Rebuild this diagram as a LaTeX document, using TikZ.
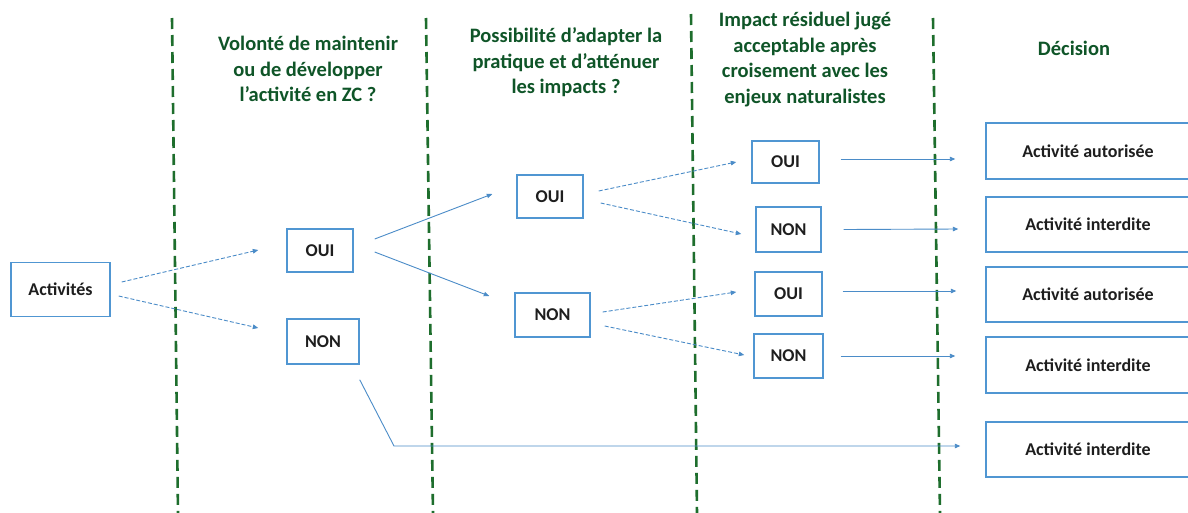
\documentclass[tikz,border=0pt]{standalone}
\usepackage{fontspec}
\setmainfont{Carlito}
\usetikzlibrary{arrows.meta}
\definecolor{boxblue}{RGB}{80,150,210}
\definecolor{linkblue}{RGB}{75,140,200}
\definecolor{sepgreen}{RGB}{30,110,45}
\definecolor{headgreen}{RGB}{15,85,40}
\definecolor{labelink}{RGB}{30,30,30}
\tikzset{
  bx/.style={draw=boxblue, line width=1.4pt, fill=white, inner sep=0pt,
    font=\fontsize{18}{20}\selectfont\bfseries, text=labelink},
  decbox/.style={bx, minimum width=204pt, minimum height=55pt},
  sep/.style={draw=sepgreen, line width=2.6pt, dash pattern=on 11pt off 6pt},
  head/.style={align=center, text=headgreen, inner sep=0pt,
    font=\fontsize{20.5}{25.5}\selectfont\bfseries},
  arr/.style={draw=linkblue, line width=0.9pt, -{Triangle[length=5.5pt,width=4.5pt]}},
  darr/.style={arr, dash pattern=on 4pt off 2pt},
}
\begin{document}
\begin{tikzpicture}[x=1pt,y=-1pt]
\useasboundingbox[fill=white] (0,0) rectangle (1188,512);
% separators
\draw[sep] (172,18) -- (178,514);
\draw[sep] (426,18) -- (433,514);
\draw[sep] (691,14) -- (697,514);
\draw[sep] (933,18) -- (940,514);
% headers
\node[head] (h1) at (308,69) {Volonté de maintenir\\ou de développer\\l’activité en ZC ?};
\node[head] (h2) at (566,62.5) {Possibilité d’adapter la\\pratique et d’atténuer\\les impacts ?};
\node[head] (h3) at (805,59.5) {Impact résiduel jugé\\acceptable après\\croisement avec les\\enjeux naturalistes};
\node[head] (h4) at (1074,48) {Décision};
% boxes
\node[bx, minimum width=99pt, minimum height=54pt] (act) at (60.5,289.5) {Activités};
\node[bx, minimum width=66pt, minimum height=43pt] (oui1) at (320,250.5) {OUI};
\node[bx, minimum width=72pt, minimum height=45pt] (non1) at (323,341.5) {NON};
\node[bx, minimum width=66pt, minimum height=43pt] (oui2) at (550,196.5) {OUI};
\node[bx, minimum width=75pt, minimum height=44pt] (non2) at (552.5,315) {NON};
\node[bx, minimum width=67pt, minimum height=42pt] (oui3) at (785.5,162) {OUI};
\node[bx, minimum width=65pt, minimum height=45pt] (non3) at (788.5,229.5) {NON};
\node[bx, minimum width=67pt, minimum height=44pt] (oui4) at (788.5,294) {OUI};
\node[bx, minimum width=69pt, minimum height=44pt] (non4) at (788.5,356) {NON};
\node[decbox, minimum height=56pt] (d1) at (1088,151) {Activité autorisée};
\node[decbox] (d2) at (1088,224.5) {Activité interdite};
\node[decbox] (d3) at (1088,294.5) {Activité autorisée};
\node[decbox, minimum height=56pt] (d4) at (1088,365) {Activité interdite};
\node[decbox] (d5) at (1088,449.5) {Activité interdite};
% connectors
\draw[darr] ([shift={(11,-7.5)}]act.east) -- ([shift={(-28,-0.5)}]oui1.west);
\draw[darr] ([shift={(8,6.5)}]act.east) -- ([shift={(-28,-13.5)}]non1.west);
\draw[arr] ([shift={(21,-11.5)}]oui1.east) -- ([shift={(-24,-2.5)}]oui2.west);
\draw[arr] ([shift={(21,1.5)}]oui1.east) -- ([shift={(-25,-19)}]non2.west);
\draw[darr] ([shift={(15,-5.5)}]oui2.east) -- ([shift={(-15,0)}]oui3.west);
\draw[darr] ([shift={(17,6.5)}]oui2.east) -- ([shift={(-14,4.5)}]non3.west);
\draw[darr] ([shift={(12,-3)}]non2.east) -- ([shift={(-18,-2)}]oui4.west);
\draw[darr] ([shift={(14,11)}]non2.east) -- ([shift={(-9,-1)}]non4.west);
\draw[arr] ([shift={(21,-3)}]oui3.east) -- ([shift={(-30,8)}]d1.west);
\draw[arr] ([shift={(22,0)}]non3.east) -- ([shift={(-27,4.5)}]d2.west);
\draw[arr] ([shift={(20,-3)}]oui4.east) -- ([shift={(-29,-3.5)}]d3.west);
\draw[arr] ([shift={(17,0)}]non4.east) -- ([shift={(-30,-9)}]d4.west);
\coordinate (bend) at (394,446);
\draw[arr] ([shift={(0,15)}]non1.south east) -- (bend) -- ([shift={(-25,-3.5)}]d5.west);
\end{tikzpicture}
\end{document}
